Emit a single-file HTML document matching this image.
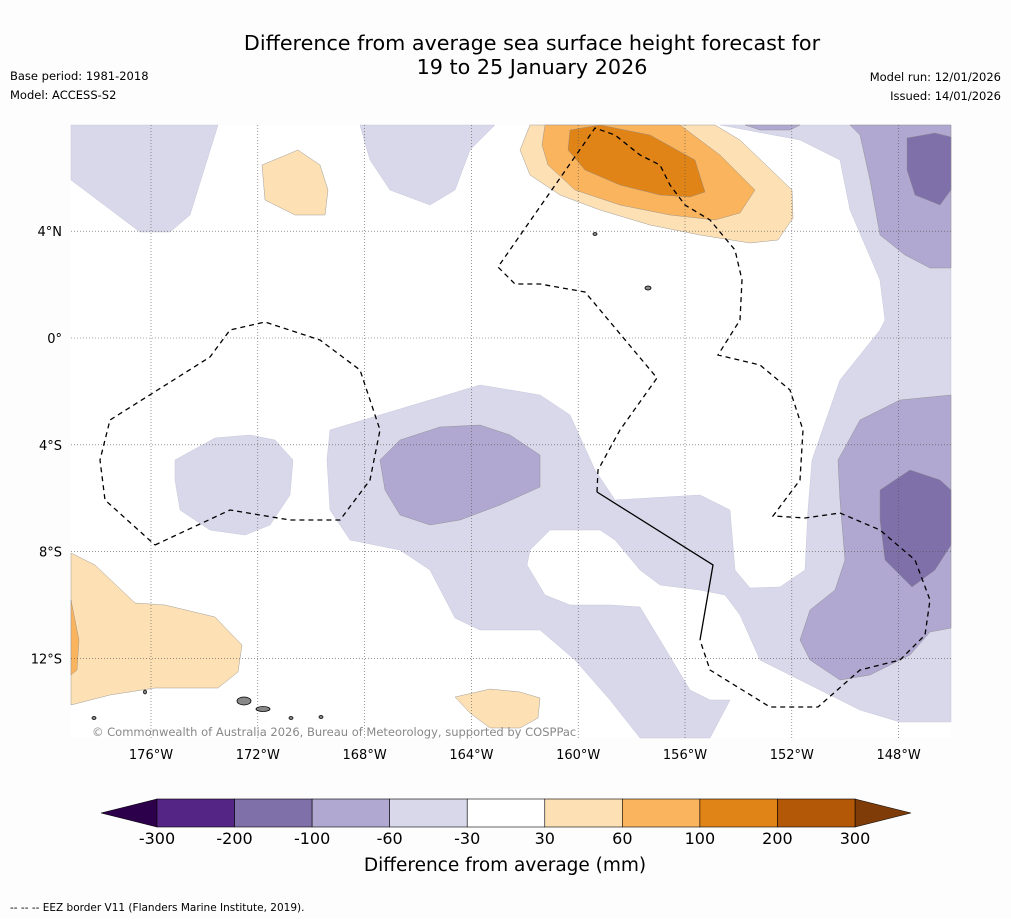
<!DOCTYPE html>
<html><head><meta charset="utf-8"><style>
body{margin:0;background:#fff;font-family:"DejaVu Sans","Liberation Sans",sans-serif}
</style></head><body>
<svg id="chart" width="1011" height="919" viewBox="0 0 1011 919" xmlns="http://www.w3.org/2000/svg" font-family="DejaVu Sans, Liberation Sans, sans-serif">
<rect width="1011" height="919" fill="#fdfdfd"/>
<text x="532" y="50" text-anchor="middle" font-size="20.7">Difference from average sea surface height forecast for</text>
<text x="532" y="74" text-anchor="middle" font-size="20.7">19 to 25 January 2026</text>
<text x="10" y="80" font-size="11.5">Base period: 1981-2018</text>
<text x="10" y="99" font-size="11.5">Model: ACCESS-S2</text>
<text x="1001" y="81" font-size="11.5" text-anchor="end">Model run: 12/01/2026</text>
<text x="1001" y="100" font-size="11.5" text-anchor="end">Issued: 14/01/2026</text>
<g id="map">
<rect x="71" y="125" width="880" height="613" fill="#ffffff"/>
<g id="contours"></g>
<g id="grid"></g>
<g id="eez"></g>
</g>
<text x="92" y="736" font-size="11.5" fill="#888">© Commonwealth of Australia 2026, Bureau of Meteorology, supported by COSPPac</text>
<g id="colorbar"></g>
<text x="505" y="871" text-anchor="middle" font-size="18.5">Difference from average (mm)</text>
<text x="10" y="911" font-size="10.5">--  --  -- EEZ border V11 (Flanders Marine Institute, 2019).</text>
</svg>
<script>
const NS='http://www.w3.org/2000/svg';
const lonTicks=[-176,-172,-168,-164,-160,-156,-152,-148];
const lonLabels=['176°W','172°W','168°W','164°W','160°W','156°W','152°W','148°W'];
const latTicks=[4,0,-4,-8,-12];
const latLabels=['4°N','0°','4°S','8°S','12°S'];
const cbLevels=['-300','-200','-100','-60','-30','30','60','100','200','300'];
const cbColors=['#552585','#8070aa','#b0a8d0','#d8d8ea','#ffffff','#fde0b4','#fab45e','#e08418','#b35806'];
const X=lon=>151+(lon+176)*26.7;
const Y=lat=>338-lat*26.7;
function mk(tag,attrs,parent){const e=document.createElementNS(NS,tag);for(const k in attrs)e.setAttribute(k,attrs[k]);parent.appendChild(e);return e;}
const shapes=[
['#d8d8ea','light-purple-nw',[[71,125],[218,125],[190,215],[170,232],[140,232],[71,180]]],
['#d8d8ea','light-purple-north',[[360,125],[495,125],[470,150],[455,190],[430,205],[390,190],[370,160]]],
['#d8d8ea','light-purple-main',[[330,430],[480,385],[540,395],[570,415],[595,470],[615,500],[700,495],[730,510],[735,570],[750,588],[780,587],[805,570],[808,510],[812,460],[840,380],[880,330],[885,320],[880,280],[850,210],[840,160],[800,140],[720,125],[951,125],[951,722],[900,722],[860,710],[800,680],[760,660],[740,615],[725,595],[700,590],[660,585],[640,570],[615,540],[600,530],[550,530],[530,550],[527,565],[545,595],[570,605],[610,605],[640,607],[660,640],[690,690],[710,700],[730,700],[710,738],[640,738],[610,700],[575,660],[540,630],[480,630],[455,618],[430,570],[400,550],[350,540],[330,510],[327,460]]],
['#d8d8ea','light-purple-west',[[175,460],[215,438],[250,435],[275,440],[293,460],[290,495],[270,525],[245,535],[210,530],[180,510],[175,480]]],
['#b0a8d0','mid-purple-center',[[380,460],[400,440],[440,427],[480,425],[510,435],[540,455],[540,487],[500,505],[460,520],[430,525],[400,515],[385,490]]],
['#b0a8d0','mid-purple-top',[[745,125],[800,125],[790,130],[760,130]]],
['#b0a8d0','mid-purple-ne',[[850,125],[951,125],[951,268],[930,268],[905,255],[880,235],[870,180],[860,135]]],
['#b0a8d0','mid-purple-se',[[951,395],[951,628],[930,632],[910,655],[870,675],[840,680],[810,660],[800,640],[810,610],[835,590],[845,560],[840,500],[838,460],[860,420],[900,400]]],
['#8070aa','dark-purple-ne',[[907,138],[935,133],[951,137],[951,190],[940,205],[915,195],[907,170]]],
['#8070aa','dark-purple-se',[[880,490],[910,470],[940,480],[951,490],[951,545],[935,570],[912,587],[885,560],[880,520]]],
['#fde0b4','light-orange-north',[[530,125],[715,125],[740,140],[792,190],[793,218],[778,240],[750,243],[700,235],[650,225],[600,210],[560,195],[530,175],[520,150]]],
['#fde0b4','light-orange-nw',[[262,165],[298,150],[320,165],[328,190],[325,215],[295,215],[265,200]]],
['#fde0b4','light-orange-sw',[[71,553],[95,565],[135,603],[165,605],[215,617],[242,645],[238,672],[218,688],[155,688],[110,695],[71,705]]],
['#fde0b4','light-orange-south',[[455,697],[490,689],[520,692],[540,698],[538,718],[520,728],[490,728],[470,713]]],
['#fab45e','orange-north',[[545,125],[680,125],[720,155],[755,190],[740,213],[715,220],[670,215],[620,205],[575,190],[548,165],[542,145]]],
['#fab45e','orange-sw',[[71,600],[79,640],[77,670],[71,675]]],
['#e08418','dark-orange-north',[[570,130],[600,125],[650,135],[695,160],[705,192],[690,197],[660,195],[620,185],[585,170],[568,150]]]
];
const cg=document.getElementById('contours');
shapes.forEach(s=>{const p=mk('polygon',{points:s[2].map(q=>q.join(',')).join(' '),fill:s[0],stroke:s[0]==='#d8d8ea'?'#c8c8dc':'#888',"stroke-width":s[0]==='#d8d8ea'?0.5:0.4},cg);

});
const gg=document.getElementById('grid');
lonTicks.forEach((t,i)=>{const l=mk('line',{x1:X(t),x2:X(t),y1:125,y2:738,stroke:'#555','stroke-width':0.6,'stroke-dasharray':'1,2'},gg);


const tx=mk('text',{x:X(t),y:759,'text-anchor':'middle','font-size':13},gg);tx.textContent=lonLabels[i];

});
latTicks.forEach((t,i)=>{const l=mk('line',{x1:71,x2:951,y1:Y(t),y2:Y(t),stroke:'#555','stroke-width':0.6,'stroke-dasharray':'1,2'},gg);


const tx=mk('text',{x:62,y:Y(t)+5,'text-anchor':'end','font-size':13},gg);tx.textContent=latLabels[i];

});
const eg=document.getElementById('eez');
const eezDashed=[
[[155,545],[230,510],[290,520],[340,520],[370,480],[380,430],[360,370],[320,340],[265,322],[230,330],[210,357],[110,420],[100,460],[105,500],[155,545]],
[[597,492],[598,470],[620,430],[657,378],[585,292],[540,284],[515,284],[498,267],[595,128],[615,135],[640,155],[660,165],[670,185],[685,205],[710,220],[735,250],[742,280],[740,320],[718,355],[760,365],[790,390],[803,430],[800,480],[773,516],[805,518],[840,513],[880,530],[915,560],[930,600],[925,635],[900,660],[860,670],[818,707],[770,707],[710,670],[700,640]]
];
eezDashed.forEach(pts=>{const p=mk('polyline',{points:pts.map(q=>q.join(',')).join(' '),fill:'none',stroke:'#000','stroke-width':1.3,'stroke-dasharray':'5,4'},eg);

});
const sol=mk('polyline',{points:'597,492 713,565 700,640',fill:'none',stroke:'#000','stroke-width':1.3},eg);


const isl=[[244,701,7,4],[263,709,7,2.5],[145,692,1.5,2],[595,234,2,1.5],[648,288,3,2],[94,718,2,1.5],[291,718,2,1.5],[321,717,2,1.5]];
isl.forEach(a=>{const e=mk('ellipse',{cx:a[0],cy:a[1],rx:a[2],ry:a[3],fill:'#888',stroke:'#000','stroke-width':0.8},eg);

});
const cb=document.getElementById('colorbar');
const cbX0=157,cbX1=855,cbY=799,cbH=28;
const n=cbColors.length;const CX=i=>cbX0+(cbX1-cbX0)*i/n;
const lt=mk('polygon',{points:`${cbX0},${cbY} 101,${cbY+cbH/2} ${cbX0},${cbY+cbH}`,fill:'#2d004b',stroke:'#000','stroke-width':0.6},cb);


const rt=mk('polygon',{points:`${cbX1},${cbY} 911,${cbY+cbH/2} ${cbX1},${cbY+cbH}`,fill:'#7f3b08',stroke:'#000','stroke-width':0.6},cb);


cbColors.forEach((c,i)=>{const r=mk('rect',{x:CX(i),y:cbY,width:CX(i+1)-CX(i),height:cbH,fill:c,stroke:'#000','stroke-width':0.6},cb);

});
cbLevels.forEach((v,i)=>{const t=mk('text',{x:CX(i),y:844,'text-anchor':'middle','font-size':16},cb);t.textContent=v;

});
</script>
</body></html>
